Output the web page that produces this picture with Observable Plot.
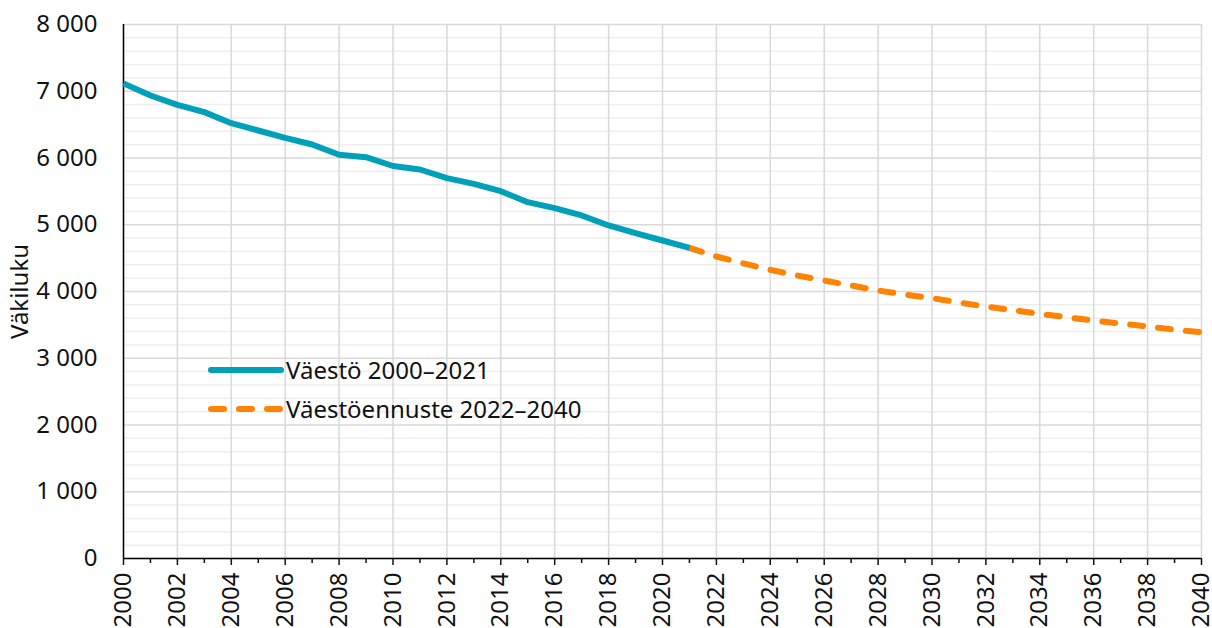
<!DOCTYPE html>
<html>
<head>
<meta charset="utf-8">
<script src="https://cdn.jsdelivr.net/npm/d3@7"></script>
<script src="https://cdn.jsdelivr.net/npm/@observablehq/plot@0.6"></script>
<style>
  html, body { margin: 0; padding: 0; background: #fff; }
  #wrap { position: relative; width: 1212px; height: 628px; font-family: "Noto Sans", sans-serif; overflow: hidden; }
  #legend { position: absolute; left: 208px; top: 350px; font-size: 24px; color: #111; }
  #legend .row { display: flex; align-items: center; height: 39px; }
  #legend svg { margin-right: 2px; }
</style>
</head>
<body>
<div id="wrap"></div>
<script>
// Population 2000–2021 (actual)
const histYears = [2000,2001,2002,2003,2004,2005,2006,2007,2008,2009,2010,2011,2012,2013,2014,2015,2016,2017,2018,2019,2020,2021];
const histValues = [7118,6936,6797,6687,6522,6412,6302,6202,6048,6012,5880,5828,5698,5613,5503,5338,5248,5139,4989,4874,4764,4655];
// Projection 2022–2040 (line joins from 2021)
const projYears = [2021,2022,2023,2024,2025,2026,2027,2028,2029,2030,2031,2032,2033,2034,2035,2036,2037,2038,2039,2040];
const projValues = [4655,4524,4420,4325,4240,4165,4090,4015,3955,3900,3835,3775,3720,3665,3615,3565,3520,3476,3430,3390];
const seriesNames = ["Väestö 2000–2021", "Väestöennuste 2022–2040"];
const seriesColors = ["#00a0b9", "#ff8200"];
const yLabel = "Väkiluku";
const majorYTicks = d3.range(0, 8001, 1000);
const minorYTicks = d3.range(0, 8001, 200).filter(v => v % 1000 !== 0);
const majorXTicks = d3.range(2000, 2041, 2);
const minorXTicks = d3.range(2001, 2040, 2);

const hist = histYears.map((year, i) => ({year, value: histValues[i]}));
const proj = projYears.map((year, i) => ({year, value: projValues[i]}));
const fmt = v => d3.format(",")(v).replace(/,/g, "\u00a0");

const chart = Plot.plot({
  width: 1212,
  height: 628,
  marginLeft: 123,
  marginRight: 11,
  marginTop: 24,
  marginBottom: 70,
  style: {fontFamily: "Noto Sans, sans-serif", fontSize: "24px", color: "#111", background: "#fff"},
  x: {domain: [2000, 2040], type: "linear"},
  y: {domain: [0, 8000]},
  marks: [
    Plot.gridY(minorYTicks, {stroke: "#eeeeee", strokeOpacity: 1, strokeWidth: 1.5}),
    Plot.gridY(majorYTicks, {stroke: "#d9d9d9", strokeOpacity: 1, strokeWidth: 1.5}),
    Plot.gridX(majorXTicks, {stroke: "#d9d9d9", strokeOpacity: 1, strokeWidth: 1.5}),
    Plot.axisY(majorYTicks, {tickSize: 0, tickPadding: 26, tickFormat: fmt, fontSize: 24,
      label: yLabel, labelAnchor: "center", labelArrow: "none", labelOffset: 113}),
    Plot.axisX(majorXTicks, {tickSize: 7, tickPadding: 7, tickRotate: -90, tickFormat: d => String(d), fontSize: 24, label: null, strokeWidth: 1.5}),
    Plot.axisX(minorXTicks, {tickSize: 5, tickFormat: () => "", label: null, strokeWidth: 1.5}),
    Plot.ruleY([0], {stroke: "#000", strokeWidth: 1.5}),
    Plot.ruleX([2000], {stroke: "#000", strokeWidth: 1.5}),
    Plot.line(proj, {x: "year", y: "value", stroke: seriesColors[1], strokeWidth: 6, strokeDasharray: "13 15", strokeLinecap: "round"}),
    Plot.line(hist, {x: "year", y: "value", stroke: seriesColors[0], strokeWidth: 6, strokeLinecap: "butt", strokeLinejoin: "round"})
  ]
});

const wrap = document.getElementById("wrap");
wrap.appendChild(chart);

const legend = document.createElement("div");
legend.id = "legend";
seriesNames.forEach((name, i) => {
  const row = document.createElement("div");
  row.className = "row";
  const dash = i === 1 ? 'stroke-dasharray="13 15"' : '';
  row.innerHTML = `<svg width="76" height="12"><line x1="3" y1="6" x2="73" y2="6" stroke="${seriesColors[i]}" stroke-width="6" stroke-linecap="round" ${dash}/></svg><span>${name}</span>`;
  legend.appendChild(row);
});
wrap.appendChild(legend);
</script>
</body>
</html>
